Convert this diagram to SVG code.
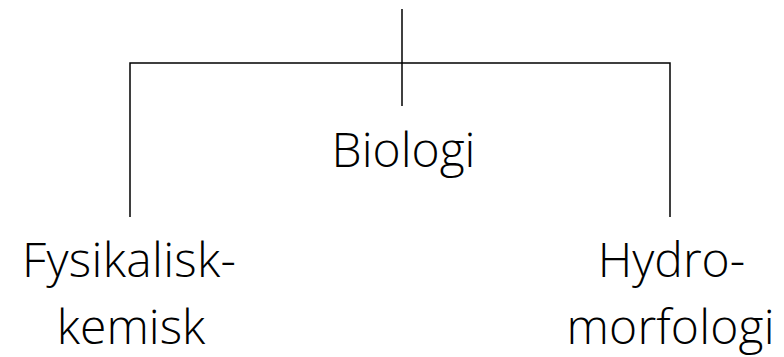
<svg xmlns="http://www.w3.org/2000/svg" width="784" height="357" viewBox="0 0 784 357">
<style>
.c{stroke:#000;stroke-width:1.5;fill:none}
.t{font-family:"Open Sans","Noto Sans",sans-serif;font-weight:300;font-size:48px;fill:#000;text-anchor:middle}
</style>
<rect width="784" height="357" fill="#fff"/>
<g id="connectors">
<line class="c" x1="402" y1="9" x2="402" y2="106"/>
<polyline class="c" points="130,217 130,63 670,63 670,217"/>
</g>
<g id="biologi"><text class="t" x="403.5" y="167">Biologi</text></g>
<g id="fysikalisk"><text class="t" x="129" y="277" textLength="214" lengthAdjust="spacing">Fysikalisk-</text><text class="t" x="131" y="344">kemisk</text></g>
<g id="hydro"><text class="t" x="671.5" y="277">Hydro-</text><text class="t" x="670.5" y="344" textLength="208" lengthAdjust="spacing">morfologi</text></g>
</svg>
